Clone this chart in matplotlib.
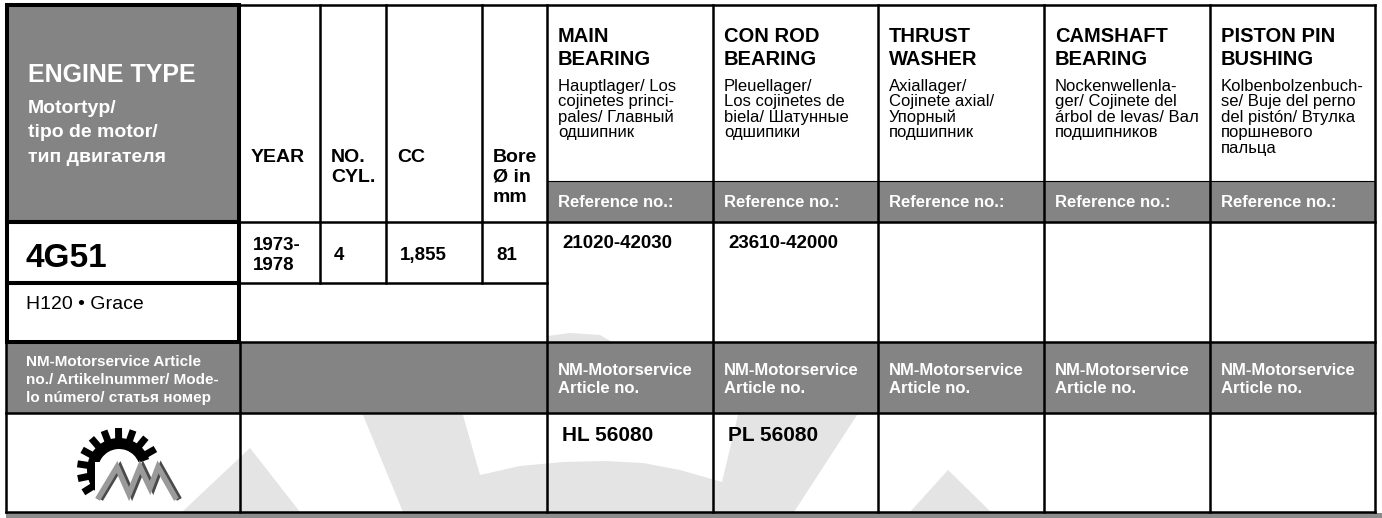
import numpy as np
import matplotlib
matplotlib.use("Agg")
import matplotlib.pyplot as plt
from matplotlib.patches import Rectangle, Polygon, Wedge

plt.rcParams['font.family'] = ['Liberation Sans', 'DejaVu Sans']

# --- table content ---
engine_title = "ENGINE TYPE"
engine_sub = ["Motortyp/", "tipo de motor/", "тип двигателя"]
engine_code = "4G51"
engine_models = "H120 • Grace"
spec_headers = [["YEAR"], ["NO.", "CYL."], ["CC"], ["Bore", "Ø in", "mm"]]
spec_values = [["1973-", "1978"], ["4"], ["1,855"], ["81"]]

part_titles = [["MAIN", "BEARING"], ["CON ROD", "BEARING"], ["THRUST", "WASHER"],
               ["CAMSHAFT", "BEARING"], ["PISTON PIN", "BUSHING"]]
part_subs = [
    ["Hauptlager/ Los", "cojinetes princi-", "pales/ Главный", "одшипник"],
    ["Pleuellager/", "Los cojinetes de", "biela/ Шатунные", "одшипики"],
    ["Axiallager/", "Cojinete axial/", "Упорный", "подшипник"],
    ["Nockenwellenla-", "ger/ Cojinete del", "árbol de levas/ Вал", "подшипников"],
    ["Kolbenbolzenbuch-", "se/ Buje del perno", "del pistón/ Втулка", "поршневого", "пальца"],
]
ref_label = "Reference no.:"
reference_nos = ["21020-42030", "23610-42000", "", "", ""]
article_label = ["NM-Motorservice", "Article no."]
article_left = ["NM-Motorservice Article", "no./ Artikelnummer/ Mode-", "lo número/ статья номер"]
article_nos = ["HL 56080", "PL 56080", "", "", ""]

# --- layout (pixels) ---
W, H = 1382, 518
GREY = '#848484'
WM = '#e4e4e4'
LW = 1.8
LW_THICK = 2.9
left_x0, left_x1 = 6, 240
spec_x = [240, 320, 386, 482, 547]
part_x = [547, 713, 878, 1044, 1210, 1375]
y_top, y_ref, y_head, y_row1, y_row2, y_row3, y_bot = 5, 181, 222, 283, 342, 413, 512

fig = plt.figure(figsize=(W / 100, H / 100), dpi=100)
ax = fig.add_axes([0, 0, 1, 1])
ax.set_xlim(0, W)
ax.set_ylim(H, 0)
ax.axis('off')


def put(x, yc, s, size, bold=False, color='black'):
    # yc is the visual centre of capital letters
    cap = 0.716 * size * 100 / 72
    ax.text(x, yc + cap / 2, s, fontsize=size, fontweight='bold' if bold else 'normal',
            color=color, va='baseline', ha='left', zorder=5)


def hline(y, x0, x1, lw=LW):
    ax.plot([x0, x1], [y, y], color='black', lw=lw, solid_capstyle='projecting', zorder=4)


def vline(x, y0, y1, lw=LW):
    ax.plot([x, x], [y0, y1], color='black', lw=lw, solid_capstyle='projecting', zorder=4)


# watermark (large gear in background)
wm_shapes = [
    [(182, 512), (250, 448), (300, 512)],
    [(403, 512), (363, 415), (463, 415), (480, 475), (520, 466), (563, 462), (605, 461),
     (643, 463), (680, 470), (722, 482), (738, 415), (857, 415), (794, 512)],
    [(910, 512), (948, 470), (991, 512)],
    [(548, 342), (548, 336), (570, 333), (600, 335), (612, 342)],
]
for pts in wm_shapes:
    ax.add_patch(Polygon(pts, closed=True, facecolor=WM, edgecolor='none', zorder=1))

# grey cells
ax.add_patch(Rectangle((left_x0, y_top), left_x1 - left_x0, y_head - y_top, facecolor=GREY, zorder=2))
ax.add_patch(Rectangle((part_x[0], y_ref), part_x[-1] - part_x[0], y_head - y_ref, facecolor=GREY, zorder=2))
ax.add_patch(Rectangle((left_x0, y_row2), part_x[-1] - left_x0, y_row3 - y_row2, facecolor=GREY, zorder=2))
ax.add_patch(Rectangle((left_x0, y_bot + 1), W - left_x0, H - y_bot, facecolor='#8c8c8c', zorder=2))

# grid lines
hline(y_top, left_x1, part_x[-1])
hline(y_head, left_x1, part_x[-1])
hline(y_ref, part_x[0], part_x[-1], lw=0.8)
hline(y_row1, left_x1, spec_x[-1])
for y in (y_row2, y_row3, y_bot):
    hline(y, left_x0, part_x[-1])
for x in spec_x[1:-1]:
    vline(x, y_top, y_row1)
for x in part_x:
    vline(x, y_top, y_bot)
vline(left_x1, y_row2, y_bot)
vline(left_x0, y_row2, y_bot)
# thick boxes of the left column
for (y0, y1) in [(y_top, y_head), (y_head, y_row1), (y_row1, y_row2)]:
    ax.add_patch(Rectangle((left_x0 + 1, y0), left_x1 - left_x0 - 2, y1 - y0, fill=False,
                           edgecolor='black', lw=LW_THICK, zorder=4))

# left column texts
put(28, 73, engine_title, 18, bold=True, color='white')
for i, s in enumerate(engine_sub):
    put(28, 106 + 24.5 * i, s, 14, bold=True, color='white')
put(26, 255, engine_code, 24, bold=True)
put(26, 302, engine_models, 14)
for i, s in enumerate(article_left):
    put(26, 361 + 18 * i, s, 11, bold=True, color='white')

# spec header / values
for j, lines in enumerate(spec_headers):
    for i, s in enumerate(lines):
        put(spec_x[j] + 11, 155 + 20 * i, s, 14, bold=True)
for j, vals in enumerate(spec_values):
    if len(vals) == 2:
        put(spec_x[j] + 13, 243, vals[0], 13.5, bold=True)
        put(spec_x[j] + 13, 263, vals[1], 13.5, bold=True)
    else:
        put(spec_x[j] + 14, 253, vals[0], 13.5, bold=True)

# part columns
for j in range(5):
    x = part_x[j] + 11
    for i, s in enumerate(part_titles[j]):
        put(x, 35 + 23 * i, s, 14.5, bold=True)
    for i, s in enumerate(part_subs[j]):
        put(x, 85 + 15.4 * i, s, 12)
    put(x, 201, ref_label, 12, bold=True, color='white')
    put(x, 369, article_label[0], 12, bold=True, color='white')
    put(x, 387, article_label[1], 12, bold=True, color='white')
    if reference_nos[j]:
        put(part_x[j] + 15, 241, reference_nos[j], 13.5, bold=True)
    if article_nos[j]:
        put(part_x[j] + 15, 434, article_nos[j], 15, bold=True)

# NM logo
cx, cy = 119, 470
ax.add_patch(Wedge((cx, cy), 32, 140, 340, width=11, facecolor='black', edgecolor='none', zorder=3))
for a in np.linspace(30, 212, 10):
    t = np.deg2rad(-a)
    u = np.array([np.cos(t), np.sin(t)])
    p = np.array([-np.sin(t), np.cos(t)])
    c = np.array([cx, cy])
    pts = [c + u * 30 + p * 3.5, c + u * 42 + p * 3.5, c + u * 42 - p * 3.5, c + u * 30 - p * 3.5]
    ax.add_patch(Polygon(pts, closed=True, facecolor='black', edgecolor='none', zorder=3))
ax.add_patch(Rectangle((95, 462), 85, 40, facecolor='white', edgecolor='none', zorder=3))
mx = np.array([99, 117, 129, 140, 150, 158, 175])
my = np.array([497, 467, 494, 467, 488, 467, 497])
ax.plot(mx + 3, my, color='#4a4a4a', lw=4, zorder=3.5, solid_joinstyle='miter')
ax.plot(mx, my, color='#9a9a9a', lw=4, zorder=3.6, solid_joinstyle='miter')

fig.savefig('out.png', dpi=100)
